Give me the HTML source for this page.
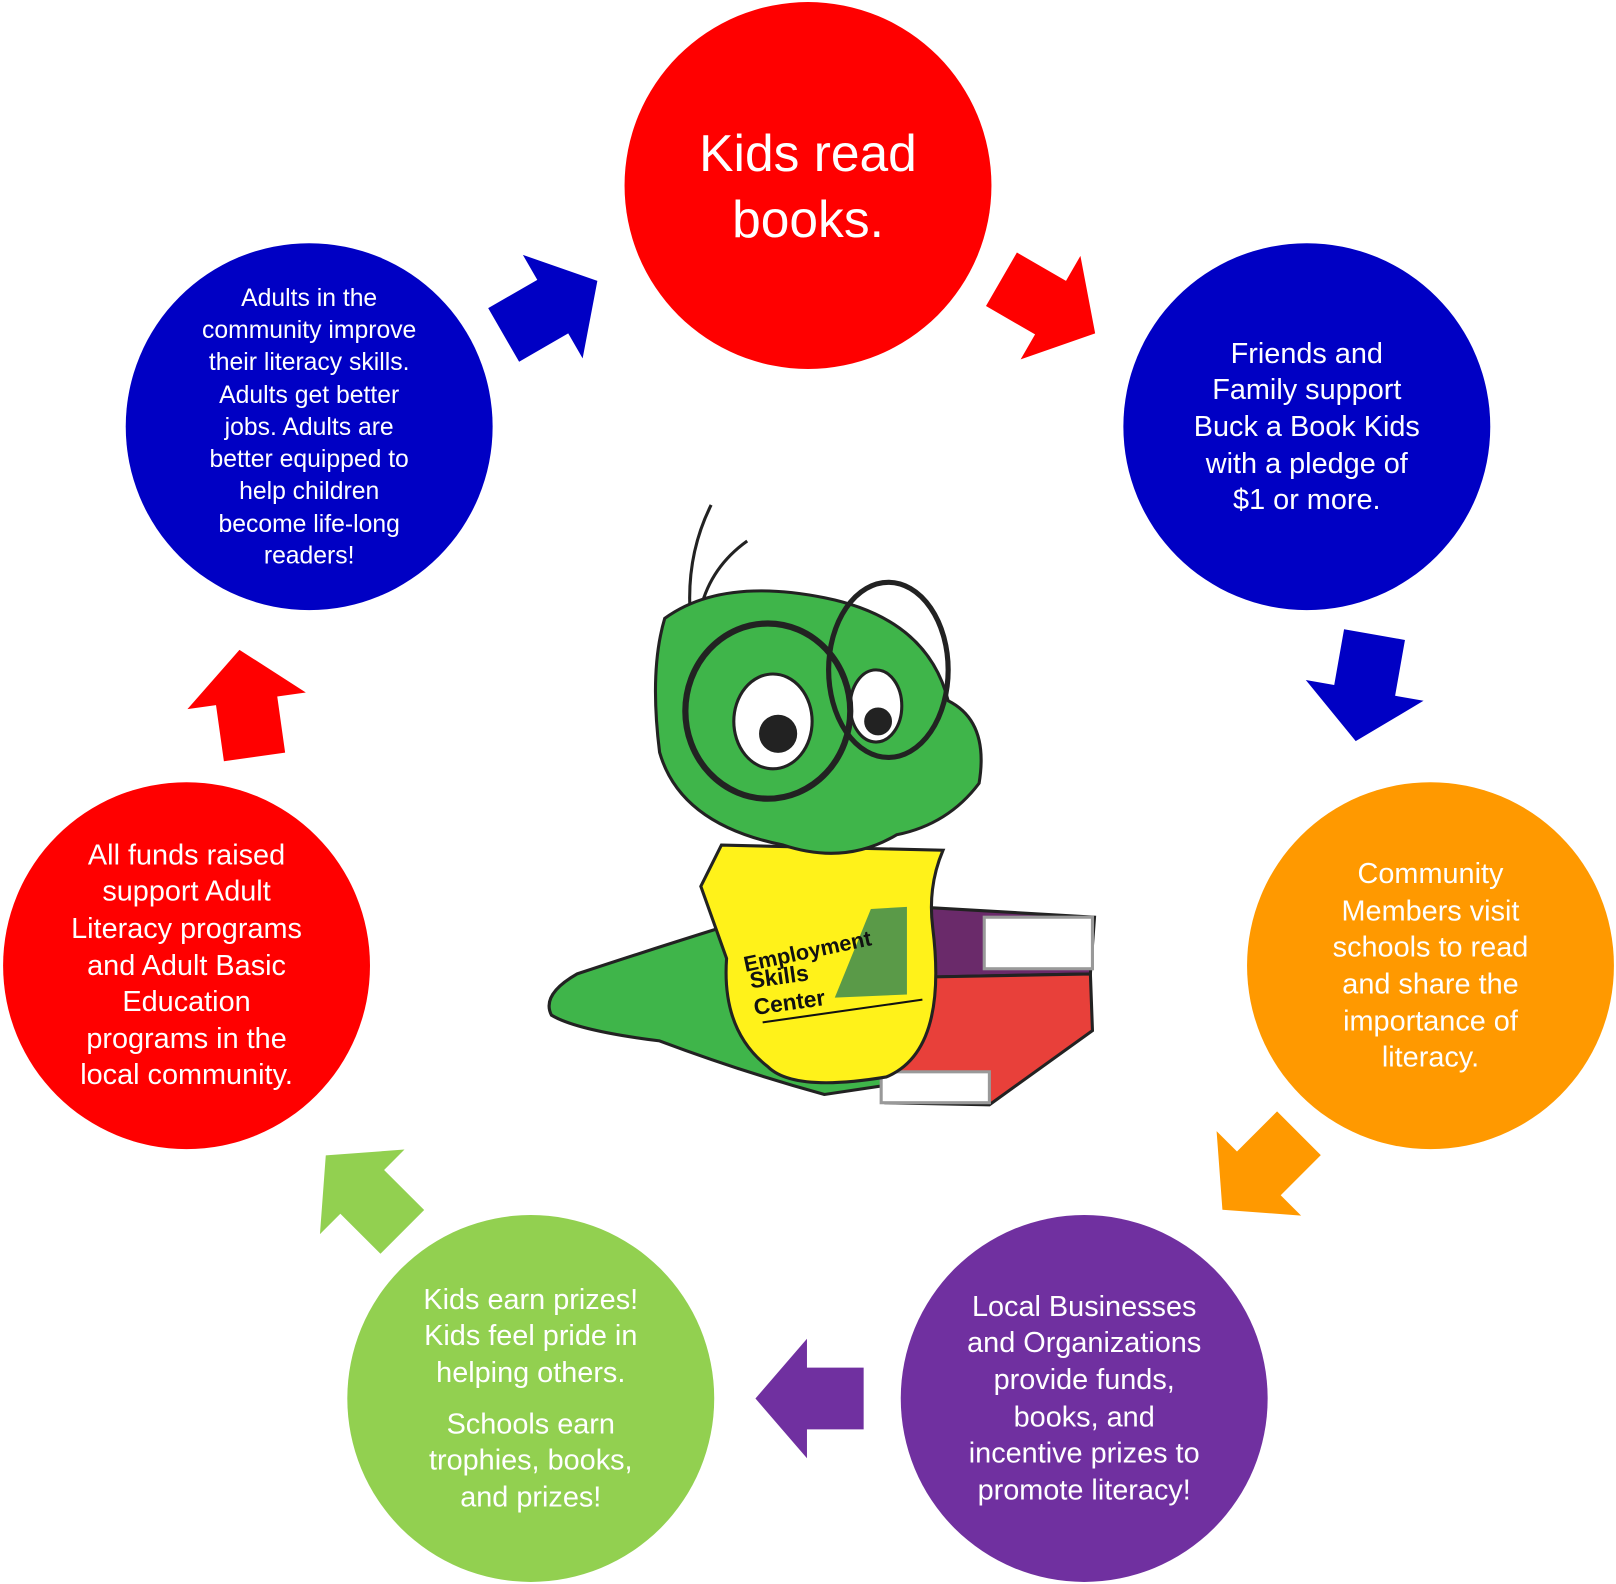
<!DOCTYPE html>
<html><head><meta charset="utf-8"><style>
html,body{margin:0;padding:0;background:#fff;width:1616px;height:1584px;overflow:hidden}
svg{display:block}
text{font-family:"Liberation Sans","DejaVu Sans",sans-serif;fill:#fff;text-anchor:middle}
</style></head><body>
<svg width="1616" height="1584" viewBox="0 0 1568 1537" preserveAspectRatio="none">
<defs>
<polygon id="arr" points="-50,-30 5,-30 5,-58 55,0 5,58 5,30 -50,30"/>
</defs>
<circle cx="784" cy="180" r="178" fill="#ff0000"/>
<circle cx="300" cy="414" r="178" fill="#0000c4"/>
<circle cx="1268" cy="414" r="178" fill="#0000c4"/>
<circle cx="1388" cy="937" r="178" fill="#ff9900"/>
<circle cx="181" cy="937" r="178" fill="#ff0000"/>
<circle cx="515" cy="1357" r="178" fill="#92d050"/>
<circle cx="1052" cy="1357" r="178" fill="#7030a0"/>
<use href="#arr" fill="#0000c4" transform="translate(532,300) rotate(-30)"/>
<use href="#arr" fill="#ff0000" transform="translate(1015,296) rotate(30)"/>
<use href="#arr" fill="#0000c4" transform="translate(1325,665) rotate(100)"/>
<use href="#arr" fill="#ff9900" transform="translate(1225,1135) rotate(135)"/>
<use href="#arr" fill="#7030a0" transform="translate(788,1357) rotate(180)"/>
<use href="#arr" fill="#92d050" transform="translate(355,1160) rotate(-135)"/>
<use href="#arr" fill="#ff0000" transform="translate(240,685) rotate(-98)"/>
<g stroke="#222" stroke-width="3">
<path d="M690,490 Q665,540 670,600" fill="none"/>
<path d="M725,525 Q690,550 680,590" fill="none"/>
<path d="M700,900 Q620,925 560,945 Q525,965 535,985 Q560,1000 640,1010 Q720,1040 800,1062 L880,1050 Z" fill="#3fb54a"/>
<polygon points="890,880 1062,890 1058,945 905,948" fill="#6a2a6a"/>
<polygon points="900,948 1058,945 1060,1000 960,1072 860,1070" fill="#e8403a"/>
<rect x="955" y="890" width="105" height="50" fill="#fff" stroke="#999"/>
<rect x="855" y="1040" width="105" height="30" fill="#fff" stroke="#999"/>
<path d="M700,820 L915,825 Q900,860 905,900 Q920,1020 860,1045 Q770,1060 745,1035 Q700,1000 705,930 L680,860 Z" fill="#fff21a"/>
<path d="M645,600 Q700,560 800,580 Q900,600 920,680 Q960,700 950,760 Q920,800 870,810 Q820,840 760,820 Q660,800 640,730 Q630,650 645,600 Z" fill="#3fb54a"/>
<ellipse cx="750" cy="700" rx="38" ry="46" fill="#fff"/>
<ellipse cx="850" cy="685" rx="25" ry="35" fill="#fff"/>
<circle cx="755" cy="712" r="17" fill="#222"/>
<circle cx="852" cy="700" r="12" fill="#222"/>
<ellipse cx="745" cy="690" rx="80" ry="85" fill="none" stroke-width="6"/>
<ellipse cx="862" cy="650" rx="58" ry="85" fill="none" stroke-width="5"/>
</g>
<polygon points="845,882 880,880 880,965 810,968" fill="#5a9a48"/>
<text x="785" y="930" style="fill:#111;font-weight:bold;font-size:21px" transform="rotate(-12 785 930)">Employment</text>
<text x="757" y="955" style="fill:#111;font-weight:bold;font-size:22px" transform="rotate(-8 757 955)">Skills</text>
<text x="767" y="980" style="fill:#111;font-weight:bold;font-size:22px" transform="rotate(-8 767 980)">Center</text>
<line x1="740" y1="992" x2="895" y2="970" stroke="#111" stroke-width="2"/>
<text style="font-size:50px"><tspan x="784" y="166">Kids read</tspan><tspan x="784" y="230">books.</tspan></text>
<text style="font-size:24px"><tspan x="300" y="297">Adults in the</tspan><tspan x="300" y="328">community improve</tspan><tspan x="300" y="359">their literacy skills.</tspan><tspan x="300" y="391">Adults get better</tspan><tspan x="300" y="422">jobs. Adults are</tspan><tspan x="300" y="453">better equipped to</tspan><tspan x="300" y="484">help children</tspan><tspan x="300" y="516">become life-long</tspan><tspan x="300" y="547">readers!</tspan></text>
<text style="font-size:28px"><tspan x="1268" y="352">Friends and</tspan><tspan x="1268" y="387">Family support</tspan><tspan x="1268" y="423">Buck a Book Kids</tspan><tspan x="1268" y="459">with a pledge of</tspan><tspan x="1268" y="494">$1 or more.</tspan></text>
<text style="font-size:28px"><tspan x="1388" y="857">Community</tspan><tspan x="1388" y="893">Members visit</tspan><tspan x="1388" y="928">schools to read</tspan><tspan x="1388" y="964">and share the</tspan><tspan x="1388" y="1000">importance of</tspan><tspan x="1388" y="1035">literacy.</tspan></text>
<text style="font-size:28px"><tspan x="181" y="839">All funds raised</tspan><tspan x="181" y="874">support Adult</tspan><tspan x="181" y="910">Literacy programs</tspan><tspan x="181" y="946">and Adult Basic</tspan><tspan x="181" y="981">Education</tspan><tspan x="181" y="1017">programs in the</tspan><tspan x="181" y="1052">local community.</tspan></text>
<text style="font-size:28px"><tspan x="515" y="1270">Kids earn prizes!</tspan><tspan x="515" y="1305">Kids feel pride in</tspan><tspan x="515" y="1341">helping others.</tspan><tspan x="515" y="1391">Schools earn</tspan><tspan x="515" y="1426">trophies, books,</tspan><tspan x="515" y="1462">and prizes!</tspan></text>
<text style="font-size:28px"><tspan x="1052" y="1277">Local Businesses</tspan><tspan x="1052" y="1312">and Organizations</tspan><tspan x="1052" y="1348">provide funds,</tspan><tspan x="1052" y="1384">books, and</tspan><tspan x="1052" y="1419">incentive prizes to</tspan><tspan x="1052" y="1455">promote literacy!</tspan></text>
</svg>
</body></html>
